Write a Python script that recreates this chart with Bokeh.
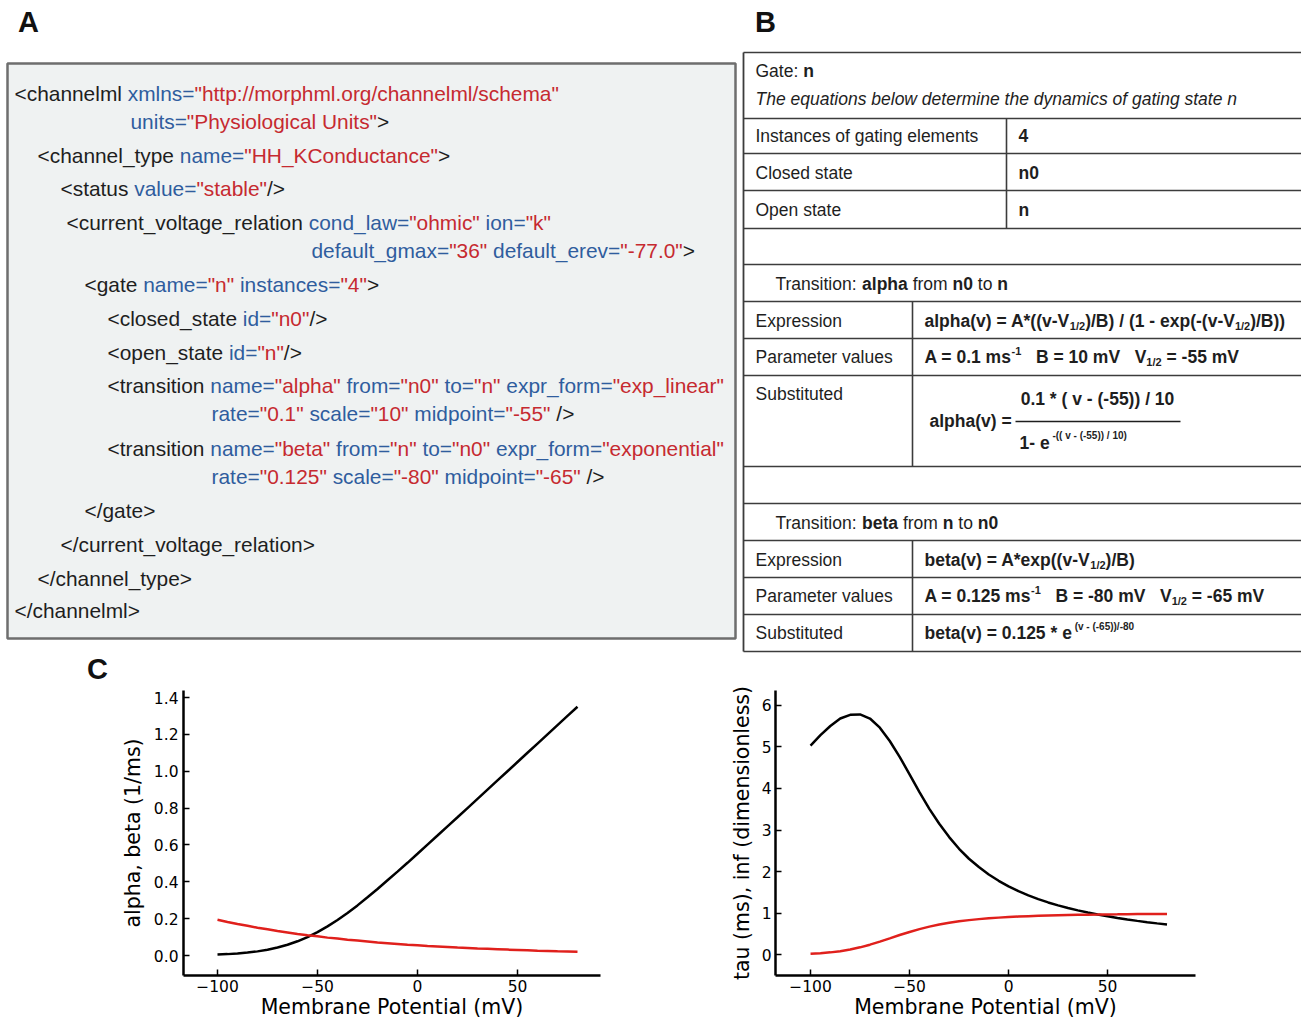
import re
import string
from collections import defaultdict
from bokeh.plotting import figure
from bokeh.models import Range1d, ColumnDataSource, FixedTicker
from bokeh.layouts import column, row
from bokeh.embed import file_html
from bokeh.resources import INLINE
from bokeh.core.properties import value

# ---------------- data ----------------
voltage_mv = [-100, -95, -90, -85, -80, -75, -70, -65, -60, -55, -50, -45, -40, -35,
              -30, -25, -20, -15, -10, -5, 0, 5, 10, 15, 20, 25, 30, 35, 40, 45,
              50, 55, 60, 65, 70, 75, 80]
alpha_per_ms = [0.005, 0.0075, 0.011, 0.0157, 0.0224, 0.0313, 0.0431, 0.0582, 0.0771, 0.100,
                0.127, 0.158, 0.193, 0.231, 0.272, 0.316, 0.361, 0.408, 0.455, 0.503,
                0.552, 0.602, 0.651, 0.701, 0.750, 0.800, 0.850, 0.900, 0.950, 1.000,
                1.050, 1.100, 1.150, 1.200, 1.250, 1.300, 1.350]
beta_per_ms = [0.194, 0.182, 0.171, 0.161, 0.151, 0.142, 0.133, 0.125, 0.117, 0.110,
               0.104, 0.097, 0.092, 0.086, 0.081, 0.076, 0.071, 0.067, 0.063, 0.059,
               0.0555, 0.052, 0.049, 0.046, 0.043, 0.041, 0.038, 0.036, 0.034, 0.032,
               0.030, 0.028, 0.026, 0.025, 0.023, 0.022, 0.020]
tau_ms = [5.03, 5.28, 5.50, 5.68, 5.77, 5.78, 5.68, 5.46, 5.14, 4.76,
          4.34, 3.91, 3.51, 3.15, 2.83, 2.55, 2.31, 2.11, 1.93, 1.78,
          1.645, 1.53, 1.43, 1.34, 1.26, 1.19, 1.126, 1.069, 1.017, 0.969,
          0.926, 0.887, 0.850, 0.817, 0.786, 0.757, 0.730]
inf_steady = [0.026, 0.039, 0.060, 0.089, 0.129, 0.181, 0.245, 0.318, 0.396, 0.476,
              0.551, 0.619, 0.679, 0.729, 0.771, 0.806, 0.835, 0.859, 0.879, 0.895,
              0.909, 0.920, 0.930, 0.938, 0.946, 0.952, 0.957, 0.962, 0.966, 0.969,
              0.973, 0.975, 0.978, 0.980, 0.982, 0.984, 0.985]
x_ticks = [-100, -50, 0, 50]
y_ticks_rates = [0.0, 0.2, 0.4, 0.6, 0.8, 1.0, 1.2, 1.4]
y_ticks_tau = [0, 1, 2, 3, 4, 5, 6]

# ---------------- font metrics (Arial-compatible) ----------------
PUNCT_R = {' ': 278, '!': 278, '"': 355, '#': 556, '$': 556, '%': 889, '&': 667, "'": 191,
           '(': 333, ')': 333, '*': 389, '+': 584, ',': 278, '-': 333, '.': 278, '/': 278,
           ':': 278, ';': 278, '<': 584, '=': 584, '>': 584, '?': 556, '@': 1015, '_': 556}
PUNCT_B = {' ': 278, '!': 333, '"': 474, '#': 556, '$': 556, '%': 889, '&': 722, "'": 238,
           '(': 333, ')': 333, '*': 389, '+': 584, ',': 278, '-': 333, '.': 278, '/': 278,
           ':': 333, ';': 333, '<': 584, '=': 584, '>': 584, '?': 611, '@': 975, '_': 556}
UP_R = [667, 667, 722, 722, 667, 611, 778, 722, 278, 500, 667, 556, 833, 722, 778, 667, 778, 722, 667, 611, 722, 667, 944, 667, 667, 611]
LO_R = [556, 556, 500, 556, 556, 278, 556, 556, 222, 222, 500, 222, 833, 556, 556, 556, 556, 333, 500, 278, 556, 500, 722, 500, 500, 500]
UP_B = [722, 722, 722, 722, 667, 611, 778, 722, 278, 556, 722, 611, 833, 722, 778, 667, 778, 722, 667, 611, 722, 667, 944, 667, 667, 611]
LO_B = [556, 611, 556, 611, 556, 333, 611, 611, 278, 278, 556, 278, 889, 611, 611, 611, 611, 389, 556, 333, 611, 556, 778, 556, 556, 500]


def build(p, up, lo):
    d = dict(p)
    for i, c in enumerate(string.ascii_uppercase):
        d[c] = up[i]
    for i, c in enumerate(string.ascii_lowercase):
        d[c] = lo[i]
    for c in string.digits:
        d[c] = 556
    return d


W_R = build(PUNCT_R, UP_R, LO_R)
W_B = build(PUNCT_B, UP_B, LO_B)


def text_w(s, bold, size):
    t = W_B if bold else W_R
    return sum(t.get(c, 556) for c in s) * size / 1000.0


TXT = defaultdict(lambda: dict(x=[], y=[], text=[], color=[]))


def put(x0, y, segs, font, size):
    x = x0
    for s in segs:
        txt, color, style = s[0], s[1], s[2]
        sz = s[3] if len(s) > 3 else size
        dy = s[4] if len(s) > 4 else 0
        bold = "bold" in style
        lead = len(txt) - len(txt.lstrip(" "))
        core = txt.strip(" ")
        if core:
            # keep runs of spaces from collapsing in SVG
            core_draw = re.sub(r" {2,}", lambda m: "\u00a0" * len(m.group(0)), core)
            d = TXT[(font, style, sz)]
            d["x"].append(x + text_w(" " * lead, bold, sz))
            d["y"].append(y + dy)
            d["text"].append(core_draw)
            d["color"].append(color)
        x += text_w(txt, bold, sz)
    return x


K = "#1e1e1e"
BL = "#2f5d9e"
RD = "#c62a30"
N = "normal"
BD = "bold"
IT = "italic"

# ---------------- top figure: panels A and B ----------------
TOP_H = 684
top = figure(width=1301, height=TOP_H, x_range=Range1d(0, 1301), y_range=Range1d(TOP_H, 0),
             output_backend="svg", toolbar_location=None, min_border=0)
top.axis.visible = False
top.grid.visible = False
top.outline_line_color = None

# panel A box
top.quad(left=[7], right=[735], top=[63], bottom=[638], fill_color="#eff2f2",
         line_color="#6e6e6e", line_width=2.5)

FA = "Liberation Sans"
SA = 20.9
xml_lines = [
    (14, 93, [("<channelml ", K), ("xmlns=", BL), ('"http://morphml.org/channelml/schema"', RD)]),
    (130, 121, [("units=", BL), ('"Physiological Units"', RD), (">", K)]),
    (37, 155, [("<channel_type ", K), ("name=", BL), ('"HH_KConductance"', RD), (">", K)]),
    (60, 188, [("<status ", K), ("value=", BL), ('"stable"', RD), ("/>", K)]),
    (66, 222, [("<current_voltage_relation ", K), ("cond_law=", BL), ('"ohmic"', RD), (" ion=", BL), ('"k"', RD)]),
    (311, 250, [("default_gmax=", BL), ('"36"', RD), (" default_erev=", BL), ('"-77.0"', RD), (">", K)]),
    (84, 284, [("<gate ", K), ("name=", BL), ('"n"', RD), (" instances=", BL), ('"4"', RD), (">", K)]),
    (107, 318, [("<closed_state ", K), ("id=", BL), ('"n0"', RD), ("/>", K)]),
    (107, 352, [("<open_state ", K), ("id=", BL), ('"n"', RD), ("/>", K)]),
    (107, 385, [("<transition ", K), ("name=", BL), ('"alpha"', RD), (" from=", BL), ('"n0"', RD),
                (" to=", BL), ('"n"', RD), (" expr_form=", BL), ('"exp_linear"', RD)]),
    (211, 413, [("rate=", BL), ('"0.1"', RD), (" scale=", BL), ('"10"', RD), (" midpoint=", BL),
                ('"-55"', RD), (" />", K)]),
    (107, 448, [("<transition ", K), ("name=", BL), ('"beta"', RD), (" from=", BL), ('"n"', RD),
                (" to=", BL), ('"n0"', RD), (" expr_form=", BL), ('"exponential"', RD)]),
    (211, 476, [("rate=", BL), ('"0.125"', RD), (" scale=", BL), ('"-80"', RD), (" midpoint=", BL),
                ('"-65"', RD), (" />", K)]),
    (84, 510, [("</gate>", K)]),
    (60, 544, [("</current_voltage_relation>", K)]),
    (37, 578, [("</channel_type>", K)]),
    (14, 610, [("</channelml>", K)]),
]
for x0, y0, segs in xml_lines:
    put(x0, y0, [(t, c, N) for t, c in segs], FA, SA)

# panel B table
FB = "Liberation Sans"
SB = 17.5
SS = 11
LC = "#3c3c3c"
h_lines = [52, 118, 153, 190, 228, 264, 301, 338, 375, 466, 503, 540, 577, 614, 651]
top.segment(x0=[743] * len(h_lines), x1=[1305] * len(h_lines), y0=h_lines, y1=h_lines,
            line_color=LC, line_width=1.6)
top.segment(x0=[743], x1=[743], y0=[52], y1=[651], line_color=LC, line_width=1.8)
top.segment(x0=[1006, 912, 912], x1=[1006, 912, 912], y0=[118, 301, 540], y1=[228, 466, 651],
            line_color=LC, line_width=1.6)
top.segment(x0=[1015], x1=[1180], y0=[421], y1=[421], line_color=K, line_width=1.5)

put(755, 70, [("Gate: ", K, N), ("n", K, BD)], FB, SB)
put(755, 98, [("The equations below determine the dynamics of gating state n", K, IT)], FB, SB)
put(755, 135, [("Instances of gating elements", K, N)], FB, SB)
put(1018, 135, [("4", K, BD)], FB, SB)
put(755, 172, [("Closed state", K, N)], FB, SB)
put(1018, 172, [("n0", K, BD)], FB, SB)
put(755, 209, [("Open state", K, N)], FB, SB)
put(1018, 209, [("n", K, BD)], FB, SB)

put(775, 283, [("Transition: ", K, N), ("alpha", K, BD), (" from ", K, N), ("n0", K, BD),
               (" to ", K, N), ("n", K, BD)], FB, SB)
put(755, 320, [("Expression", K, N)], FB, SB)
put(924, 320, [("alpha(v) = A*((v-V", K, BD), ("1/2", K, BD, SS, 5),
               (")/B) / (1 - exp(-(v-V", K, BD), ("1/2", K, BD, SS, 5), (")/B))", K, BD)], FB, SB)
put(755, 356, [("Parameter values", K, N)], FB, SB)
put(924, 356, [("A = 0.1 ms", K, BD), ("-1", K, BD, SS, -6), ("   B = 10 mV   V", K, BD),
               ("1/2", K, BD, SS, 5), (" = -55 mV", K, BD)], FB, SB)
put(755, 393, [("Substituted", K, N)], FB, SB)
put(929, 420, [("alpha(v) =", K, BD)], FB, SB)
num = "0.1 * ( v - (-55)) / 10"
put(1097 - text_w(num, True, SB) / 2, 398, [(num, K, BD)], FB, SB)
put(1019, 442, [("1- e", K, BD), (" -(( v - (-55)) / 10)", K, BD, 10, -7)], FB, SB)

put(775, 522, [("Transition: ", K, N), ("beta", K, BD), (" from ", K, N), ("n", K, BD),
               (" to ", K, N), ("n0", K, BD)], FB, SB)
put(755, 559, [("Expression", K, N)], FB, SB)
put(924, 559, [("beta(v) = A*exp((v-V", K, BD), ("1/2", K, BD, SS, 5), (")/B)", K, BD)], FB, SB)
put(755, 595, [("Parameter values", K, N)], FB, SB)
put(924, 595, [("A = 0.125 ms", K, BD), ("-1", K, BD, SS, -6), ("   B = -80 mV   V", K, BD),
               ("1/2", K, BD, SS, 5), (" = -65 mV", K, BD)], FB, SB)
put(755, 632, [("Substituted", K, N)], FB, SB)
put(924, 632, [("beta(v) = 0.125 * e", K, BD), (" (v - (-65))/-80", K, BD, 10, -6)], FB, SB)

for (font, style, sz), d in TXT.items():
    top.text(x="x", y="y", text="text", text_color="color", source=ColumnDataSource(d),
             text_font=value(font), text_font_style=style, text_font_size=f"{sz}px",
             text_baseline="middle", text_align="left")

# panel letters
top.text(x=[28, 765, 97], y=[21, 21, 668], text=["A", "B", "C"], text_font=value("Liberation Sans"),
         text_font_style="bold", text_font_size="29px", text_color="#111111",
         text_align="center", text_baseline="middle")

# ---------------- panel C plots ----------------
MINUS = "\u2212"


def style_axes(p, yticks, ylabel, yfmt):
    p.xaxis.ticker = FixedTicker(ticks=x_ticks)
    p.xaxis.major_label_overrides = {t: (MINUS + str(-t) if t < 0 else str(t)) for t in x_ticks}
    p.yaxis.ticker = FixedTicker(ticks=yticks)
    p.yaxis.major_label_overrides = {t: yfmt(t) for t in yticks}
    p.xaxis.axis_label = "Membrane Potential (mV)"
    p.yaxis.axis_label = ylabel
    for ax in (p.xaxis, p.yaxis):
        ax.axis_line_width = 2.5
        ax.axis_line_color = "black"
        ax.major_tick_in = 6
        ax.major_tick_out = 0
        ax.major_tick_line_width = 1.5
        ax.minor_tick_line_color = None
        ax.major_label_text_font = "DejaVu Sans"
        ax.major_label_text_font_size = "15.5px"
        ax.major_label_text_color = "black"
        ax.axis_label_text_font = "DejaVu Sans"
        ax.axis_label_text_font_size = "20.5px"
        ax.axis_label_text_font_style = "normal"
        ax.axis_label_text_color = "black"
    p.xaxis.major_label_standoff = 4
    p.xaxis.axis_label_standoff = 0
    p.yaxis.major_label_standoff = 5
    p.yaxis.axis_label_standoff = 6
    p.grid.visible = False
    p.outline_line_color = None


BOT_H = 1022 - TOP_H
p1 = figure(width=650, height=BOT_H, x_range=Range1d(-117, 91.5), y_range=Range1d(-0.1085, 1.438),
            output_backend="svg", toolbar_location=None,
            min_border_left=183, min_border_right=50, min_border_top=6, min_border_bottom=47)
style_axes(p1, y_ticks_rates, "alpha, beta (1/ms)", lambda t: f"{t:.1f}")
p1.line(voltage_mv, alpha_per_ms, line_color="black", line_width=2.5)
p1.line(voltage_mv, beta_per_ms, line_color="#e0201c", line_width=2.5)

p2 = figure(width=651, height=BOT_H, x_range=Range1d(-117.7, 94.4), y_range=Range1d(-0.496, 6.354),
            output_backend="svg", toolbar_location=None,
            min_border_left=125, min_border_right=106, min_border_top=1, min_border_bottom=47)
style_axes(p2, y_ticks_tau, "tau (ms), inf (dimensionless)", lambda t: str(t))
p2.yaxis.major_label_standoff = 4
p2.yaxis.axis_label_standoff = 5
p2.line(voltage_mv, tau_ms, line_color="black", line_width=2.5)
p2.line(voltage_mv, inf_steady, line_color="#e0201c", line_width=2.5)

layout = column(top, row(p1, p2, spacing=0), spacing=0)
open("out.html", "w").write(file_html(layout, INLINE))
